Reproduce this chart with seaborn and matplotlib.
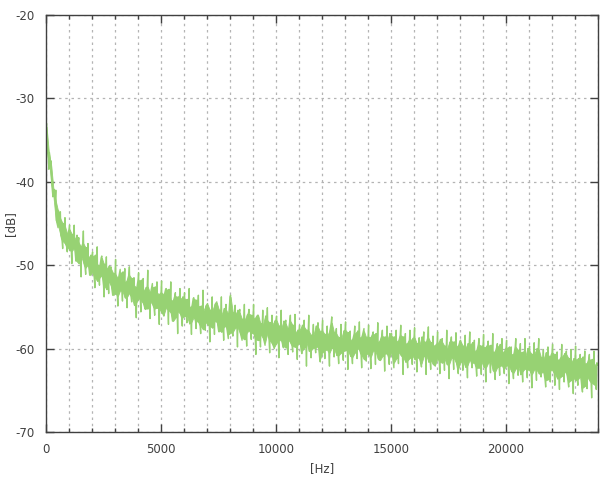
import numpy as np
import pandas as pd
import matplotlib
matplotlib.use("Agg")
import matplotlib.pyplot as plt
import seaborn as sns
from matplotlib.ticker import MultipleLocator

# Spectrum samples.
# Series A: every 100 Hz from 0 Hz; Series B: every 100 Hz from 50 Hz.
level_a_db = [
    -33.4, -37.2, -38.0, -41.8, -42.3, -45.2, -44.4, -47.1, -45.3, -47.8,
    -45.7, -48.3, -47.0, -49.5, -47.3, -48.9, -47.4, -50.3, -49.1, -51.2,
    -48.9, -51.5, -49.9, -51.5, -49.1, -52.4, -50.4, -51.9, -50.4, -53.6,
    -51.1, -53.7, -50.9, -53.1, -52.1, -53.8, -51.2, -53.8, -52.4, -54.5,
    -51.8, -54.2, -53.1, -55.2, -52.6, -54.3, -52.6, -55.2, -53.3, -55.2,
    -53.3, -55.9, -52.9, -55.4, -54.2, -56.7, -53.7, -55.5, -54.1, -56.3,
    -54.0, -56.0, -55.0, -56.8, -54.0, -56.7, -54.9, -57.3, -55.6, -56.8,
    -54.7, -57.3, -55.5, -56.7, -54.5, -57.8, -56.0, -57.4, -55.3, -58.3,
    -53.8, -58.0, -55.9, -57.4, -55.7, -58.7, -56.6, -58.1, -55.8, -58.1,
    -56.4, -58.9, -56.0, -58.3, -57.2, -59.3, -56.6, -59.0, -57.2, -59.8,
    -56.6, -59.0, -57.6, -59.7, -57.0, -58.9, -56.7, -59.7, -58.1, -59.6,
    -57.8, -60.3, -57.4, -59.2, -57.9, -60.2, -58.4, -59.9, -57.4, -61.2,
    -57.9, -60.2, -58.5, -60.5, -56.9, -60.0, -58.2, -60.8, -58.9, -60.3,
    -57.8, -60.2, -59.0, -61.0, -58.2, -59.9, -58.7, -60.8, -57.9, -60.6,
    -58.6, -61.0, -58.3, -60.3, -59.3, -61.4, -58.5, -60.6, -59.1, -61.1,
    -58.5, -61.7, -59.1, -60.4, -58.4, -61.0, -59.4, -61.4, -59.0, -60.8,
    -58.7, -61.0, -59.7, -61.8, -59.1, -60.7, -58.7, -61.4, -59.6, -61.9,
    -59.4, -61.6, -59.2, -61.2, -60.1, -61.9, -59.1, -61.1, -59.7, -62.4,
    -59.1, -61.4, -60.0, -62.0, -59.5, -61.7, -60.3, -62.3, -59.5, -61.5,
    -59.8, -62.3, -59.6, -61.5, -60.4, -62.8, -59.8, -62.1, -60.4, -62.4,
    -59.9, -62.1, -60.7, -62.9, -59.8, -62.0, -60.4, -62.7, -61.1, -62.5,
    -60.3, -63.1, -60.7, -62.5, -60.1, -62.9, -61.3, -63.8, -60.8, -62.6,
    -60.5, -63.0, -61.3, -63.5, -61.0, -62.7, -60.7, -64.0, -61.7, -63.5,
    -61.3, -63.7, -61.2, -64.7, -61.8, -63.4, -61.3, -64.1, -62.1, -64.4,
    -62.0,
]
level_b_db = [
    -36.0, -36.5, -40.2, -40.9, -44.6, -43.5, -46.4, -45.0, -47.4, -46.3,
    -48.2, -46.3, -47.9, -46.4, -49.8, -47.8, -49.7, -47.9, -49.9, -48.8,
    -50.8, -48.8, -51.9, -50.0, -51.2, -49.9, -52.9, -50.1, -52.5, -51.0,
    -53.3, -51.6, -53.0, -50.8, -53.9, -51.7, -53.3, -51.6, -54.8, -52.7,
    -53.9, -51.8, -54.6, -52.7, -55.2, -53.3, -54.7, -52.6, -55.1, -53.5,
    -55.7, -53.5, -55.0, -52.9, -55.7, -54.2, -56.3, -53.8, -55.8, -53.8,
    -56.1, -54.1, -57.0, -54.9, -56.2, -54.2, -56.8, -54.9, -57.7, -54.9,
    -57.1, -55.4, -57.5, -54.7, -56.8, -55.4, -58.0, -55.2, -57.3, -55.9,
    -58.1, -55.7, -57.5, -55.4, -58.1, -56.5, -58.9, -56.0, -57.8, -56.0,
    -58.2, -56.2, -59.0, -57.0, -58.7, -56.1, -58.1, -56.9, -59.4, -56.7,
    -59.3, -57.3, -59.0, -56.7, -59.9, -57.7, -59.3, -57.2, -59.8, -57.8,
    -59.2, -57.2, -59.9, -57.8, -60.3, -58.4, -59.9, -57.3, -59.7, -58.0,
    -60.4, -58.3, -60.1, -57.8, -59.9, -58.1, -60.8, -58.7, -60.5, -57.9,
    -60.2, -58.1, -60.9, -58.8, -60.5, -57.9, -60.2, -58.5, -61.3, -58.7,
    -60.7, -58.6, -60.2, -58.2, -61.2, -58.9, -60.9, -58.6, -60.6, -58.2,
    -60.4, -58.6, -61.2, -59.0, -60.8, -58.6, -61.6, -59.3, -61.1, -58.8,
    -61.3, -59.4, -61.2, -58.6, -60.9, -59.2, -61.6, -59.3, -61.9, -59.6,
    -61.1, -58.9, -61.7, -59.7, -61.9, -59.3, -61.1, -59.2, -61.7, -59.6,
    -61.6, -59.7, -62.2, -59.4, -61.3, -59.3, -61.7, -60.1, -62.3, -59.7,
    -62.2, -59.8, -61.7, -59.6, -62.6, -60.3, -62.2, -59.5, -62.0, -60.3,
    -62.0, -59.8, -62.7, -60.6, -62.4, -60.2, -63.1, -60.4, -62.4, -60.0,
    -62.6, -60.7, -62.5, -60.0, -63.0, -61.1, -62.8, -60.5, -63.7, -60.9,
    -62.6, -60.7, -63.6, -61.3, -63.3, -60.6, -63.0, -61.2, -63.8, -61.2,
    -63.8, -61.2, -63.3, -61.0, -64.5, -61.7, -63.8, -61.3, -64.3, -61.7,
]
# Upward spikes (every 200 Hz from 25 Hz) and downward spikes (every 200 Hz from 125 Hz)
peak_db = [
    -33.0, -37.5, -41.0, -43.6, -44.3, -45.2, -45.2, -46.7, -45.9, -47.4,
    -48.4, -47.8, -48.9, -49.0, -50.2, -49.3, -50.5, -50.4, -50.2, -51.5,
    -50.9, -51.6, -50.6, -52.2, -52.0, -51.9, -52.8, -52.0, -53.3, -52.8,
    -53.3, -52.8, -53.9, -53.6, -53.0, -54.6, -53.8, -54.4, -53.8, -54.7,
    -53.6, -54.8, -55.3, -54.7, -55.3, -54.7, -56.0, -55.4, -55.1, -56.0,
    -56.1, -55.4, -56.6, -56.0, -55.9, -57.2, -56.6, -56.0, -57.1, -56.9,
    -56.6, -57.3, -56.2, -57.6, -57.1, -56.8, -57.9, -57.3, -56.8, -57.6,
    -57.2, -58.0, -56.9, -57.8, -57.3, -58.2, -57.8, -57.2, -58.2, -57.8,
    -57.5, -58.7, -58.0, -57.4, -58.5, -58.0, -58.8, -57.8, -58.6, -58.1,
    -59.0, -58.4, -58.0, -59.0, -58.8, -58.3, -59.1, -58.2, -59.4, -58.8,
    -59.0, -59.8, -58.8, -59.4, -58.8, -59.7, -59.3, -58.8, -60.1, -59.8,
    -59.5, -60.4, -59.5, -60.3, -60.1, -59.7, -60.7, -60.3, -60.7, -60.3,
]
dip_db = [
    -38.5, -41.5, -45.5, -48.0, -48.4, -49.8, -49.5, -51.4, -51.1, -51.1,
    -52.7, -52.4, -53.8, -53.4, -53.4, -54.9, -54.3, -55.1, -54.4, -56.3,
    -55.6, -55.3, -56.4, -56.0, -57.1, -56.1, -57.1, -56.7, -58.2, -57.3,
    -56.9, -58.3, -57.6, -58.2, -57.8, -59.2, -58.3, -58.0, -59.0, -58.8,
    -58.5, -59.8, -59.0, -59.7, -58.9, -60.7, -59.8, -59.6, -60.5, -60.0,
    -61.1, -59.9, -60.7, -60.4, -61.3, -60.6, -62.1, -61.1, -60.5, -61.6,
    -61.2, -62.1, -61.0, -61.8, -61.4, -62.5, -61.8, -61.2, -62.3, -61.5,
    -62.4, -61.9, -61.3, -62.7, -61.9, -62.3, -61.8, -63.1, -62.3, -61.9,
    -62.8, -62.2, -63.1, -62.5, -62.1, -63.0, -62.6, -63.6, -62.5, -63.0,
    -62.6, -63.5, -62.3, -63.3, -63.1, -64.0, -62.9, -63.7, -63.2, -63.0,
    -64.2, -63.6, -63.2, -64.0, -63.5, -64.7, -63.8, -63.4, -64.6, -64.0,
    -64.4, -64.9, -64.0, -64.6, -65.4, -64.4, -65.2, -64.8, -65.9, -64.9,
]
x_label = "[Hz]"
y_label = "[dB]"

step = 100
a_arr, b_arr = np.array(level_a_db), np.array(level_b_db)
p_arr, d_arr = np.array(peak_db), np.array(dip_db)
freq_a = np.arange(len(a_arr)) * step
freq_b = np.arange(len(b_arr)) * step + 50
freq_p = np.arange(len(p_arr)) * 2 * step + 25
freq_d = np.arange(len(d_arr)) * 2 * step + 125

# the trace through all samples, in frequency order
df = pd.DataFrame({
    "freq": np.concatenate([freq_a, freq_b, freq_p, freq_d]),
    "level": np.concatenate([a_arr, b_arr, p_arr, d_arr]),
}).sort_values("freq").reset_index(drop=True)

# dense core of the trace, between the two base sample series
n_b = len(b_arr)
env_upper = np.maximum(a_arr[:n_b], b_arr)
env_lower = np.minimum(a_arr[:n_b], b_arr)
env_freq = freq_a[:n_b] + 25

sns.set_theme(style="white")
plt.rcParams["font.family"] = ["DejaVu Sans"]
plt.rcParams["axes.unicode_minus"] = False

green = "#97d273"
text_col = "#404040"
grid_col = "#b4b4b4"

fig = plt.figure(figsize=(6, 4.8), dpi=100)
ax = fig.add_axes([46 / 600, 48 / 480, 552 / 600, 417 / 480])

ax.fill_between(env_freq, env_lower, env_upper, color=green, linewidth=0.6,
                edgecolor=green)
sns.lineplot(data=df, x="freq", y="level", ax=ax, color=green, linewidth=1.0,
             sort=True, estimator=None)

ax.set_xlim(0, 24000)
ax.set_ylim(-70, -20)
ax.xaxis.set_major_locator(MultipleLocator(5000))
ax.xaxis.set_minor_locator(MultipleLocator(1000))
ax.yaxis.set_major_locator(MultipleLocator(10))

dots = (0, (2, 3))
ax.grid(which="minor", axis="x", color=grid_col, linestyle=dots, linewidth=0.9)
ax.grid(which="major", axis="x", color=grid_col, linestyle=dots, linewidth=0.9)
ax.grid(which="major", axis="y", color=grid_col, linestyle=dots, linewidth=0.9)
ax.set_axisbelow(True)

ax.tick_params(axis="both", which="major", direction="in", length=6, width=1,
               color=text_col, labelcolor=text_col, labelsize=8.5,
               top=True, right=True, bottom=True, left=True)
ax.tick_params(axis="x", which="minor", direction="in", length=3, width=1,
               color=text_col, top=True, bottom=True)
ax.tick_params(axis="x", which="major", pad=8)
ax.tick_params(axis="y", which="major", pad=8)

for s in ax.spines.values():
    s.set_visible(True)
    s.set_color(text_col)
    s.set_linewidth(1)

ax.set_xlabel(x_label, color=text_col, fontsize=8.5)
ax.set_ylabel(y_label, color=text_col, fontsize=8.5)
ax.xaxis.set_label_coords(0.5, -30 / 417)
ax.yaxis.set_label_coords(-29 / 552, 0.5)

fig.savefig("out.png", dpi=100)
